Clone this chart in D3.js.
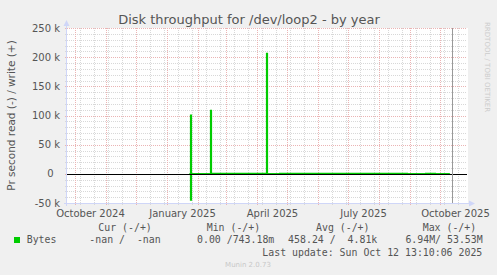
<!DOCTYPE html>
<html><head><meta charset="utf-8">
<script src="https://cdn.jsdelivr.net/npm/d3@7"></script>
<style>html,body{margin:0;padding:0;background:#f0f0f0;}svg{display:block}</style>
</head><body><svg id="c" width="497" height="275"></svg>
<script>
// ---------- data ----------
const title = "Disk throughput for /dev/loop2 - by year";
const yAxisTitle = "Pr second read (-) / write (+)";
const watermark = "RRDTOOL / TOBI OETIKER";
const yTicks = [-50000, 0, 50000, 100000, 150000, 200000, 250000];
const yTickLabels = ["-50 k", "0", "50 k", "100 k", "150 k", "200 k", "250 k"];
const xLabelMonths = ["2024-10-01", "2025-01-01", "2025-04-01", "2025-07-01", "2025-10-01"];
const xLabels = ["October 2024", "January 2025", "April 2025", "July 2025", "October 2025"];
// daily samples (step after); null = no data
const dates = ["2025-01-23", "2025-01-24", "2025-01-25", "2025-02-13", "2025-02-14", "2025-04-10", "2025-04-11",
  "2025-04-23", "2025-08-29", "2025-09-16", "2025-09-26", "2025-10-10", "2025-10-13"];
const writeVals = [0, 100800, 0, 108800, 900, 206500, 0, 900, 0, 900, 0, 900, null];
const readVals = [0, 45000, 0, 0, 0, 0, 0, 0, 0, 0, 0, 0, null];
const lastUpdate = "2025-10-12T13:10:06Z";
const seriesName = "Bytes";
const legendHeaders = ["Cur (-/+)", "Min (-/+)", "Avg (-/+)", "Max (-/+)"];
const legendValues = ["-nan /  -nan", "0.00 /743.18m", "458.24 /  4.81k", "6.94M/ 53.53M"];
const footerText = "Last update: Sun Oct 12 13:10:06 2025";
const versionText = "Munin 2.0.73";

// ---------- layout ----------
const L = 67, R = 467, T = 28, B = 203;
const svg = d3.select("#c");
const green = "#00cc00";
const parse = d3.utcParse("%Y-%m-%d");
const start = Date.UTC(2024, 8, 23), end = Date.UTC(2025, 9, 28);
const x = d3.scaleUtc().domain([start, end]).range([L, R]);
const y = d3.scaleLinear().domain([-50000, 250000]).range([B, T]);

svg.append("rect").attr("width", 497).attr("height", 275).attr("fill", "#f0f0f0");
svg.append("rect").attr("x", L).attr("y", T).attr("width", R - L + 1).attr("height", B - T).attr("fill", "#ffffff");

const g = svg.append("g");
// minor horizontal grid
const minorY = d3.range(-50000, 250001, 10000).filter(v => v % 50000 !== 0);
g.selectAll(".hmin").data(minorY).join("line")
  .attr("x1", L - 2).attr("x2", R).attr("y1", d => Math.round(y(d)) + 0.5).attr("y2", d => Math.round(y(d)) + 0.5)
  .attr("stroke", "#d8d8d8").attr("stroke-dasharray", "1,1");
// minor vertical grid: every 14 days
const firstMinor = Date.UTC(2024, 9, 6);
const minorX = d3.range(0, 30).map(i => d3.utcDay.offset(new Date(firstMinor), 14 * i)).filter(d => d >= start && d <= end);
g.selectAll(".vmin").data(minorX).join("line")
  .attr("y1", T).attr("y2", B + 2).attr("x1", d => Math.round(x(d)) + 0.5).attr("x2", d => Math.round(x(d)) + 0.5)
  .attr("stroke", "#d8d8d8").attr("stroke-dasharray", "1,1");
// major horizontal grid
g.selectAll(".hmaj").data(yTicks).join("line")
  .attr("x1", L - 2).attr("x2", R).attr("y1", d => Math.round(y(d)) + 0.5).attr("y2", d => Math.round(y(d)) + 0.5)
  .attr("stroke", "#ebb4b4").attr("stroke-dasharray", "1,1");
// major vertical grid: month starts
const majorX = d3.utcMonth.range(new Date(start), new Date(end));
g.selectAll(".vmaj").data(majorX).join("line")
  .attr("y1", T).attr("y2", B + 2).attr("x1", d => Math.round(x(d)) + 0.5).attr("x2", d => Math.round(x(d)) + 0.5)
  .attr("stroke", "#ebb4b4").attr("stroke-dasharray", "1,1");

// data
const pts = dates.map((d, i) => ({ t: parse(d), w: writeVals[i], r: readVals[i] }));
const lineW = d3.line().defined(d => d.w !== null).x(d => Math.round(x(d.t)) + 0.5).y(d => y(d.w)).curve(d3.curveStepAfter);
const lineR = d3.line().defined(d => d.r !== null).x(d => Math.round(x(d.t)) + 0.5).y(d => y(-d.r)).curve(d3.curveStepAfter);
svg.append("path").attr("d", lineR(pts)).attr("fill", "none").attr("stroke", green).attr("stroke-width", 1.2);
svg.append("path").attr("d", lineW(pts)).attr("fill", "none").attr("stroke", green).attr("stroke-width", 1.2);

// zero line
svg.append("line").attr("x1", L).attr("x2", R).attr("y1", Math.round(y(0)) + 0.5).attr("y2", Math.round(y(0)) + 0.5)
  .attr("stroke", "#000").attr("stroke-width", 1);

// now rule
const tNow = new Date(lastUpdate);
svg.append("line").attr("x1", Math.round(x(tNow)) + 0.5).attr("x2", Math.round(x(tNow)) + 0.5).attr("y1", T).attr("y2", B)
  .attr("stroke", "#999999").attr("stroke-width", 1);

// axes
const axisCol = "#cfd6f8";
svg.append("line").attr("x1", L - 0.5).attr("x2", L - 0.5).attr("y1", B + 3).attr("y2", T - 4).attr("stroke", axisCol);
svg.append("line").attr("x1", L - 3).attr("x2", R + 3).attr("y1", B + 0.5).attr("y2", B + 0.5).attr("stroke", axisCol);
svg.append("path").attr("d", `M${L - 3.5},${T - 2} L${L - 0.5},${T - 8} L${L + 2.5},${T - 2} Z`).attr("fill", axisCol);
svg.append("path").attr("d", `M${R + 2},${B - 2.5} L${R + 8},${B + 0.5} L${R + 2},${B + 3.5} Z`).attr("fill", axisCol);

// y tick labels
const font = "'DejaVu Sans', sans-serif";
const yl = svg.append("g").attr("font-family", font).attr("font-size", 10).attr("fill", "#555");
yTicks.forEach((v, i) => {
  const t = yl.append("text").attr("x", 60).attr("y", y(v) + 3.6).attr("text-anchor", "end")
    .attr("xml:space", "preserve").text(yTickLabels[i]);
  if (!/\s/.test(yTickLabels[i])) t.append("tspan").attr("fill", "none").text("  ");
});
// x labels (centered at mid-month)
const xl = svg.append("g").attr("font-family", font).attr("font-size", 10).attr("fill", "#555");
xLabelMonths.forEach((m, i) => {
  const t = d3.utcHour.offset(parse(m), 15 * 24 + 12);
  xl.append("text").attr("x", x(t)).attr("y", 216.5).attr("text-anchor", "middle").text(xLabels[i]);
});

// title
svg.append("text").attr("x", 249).attr("y", 24).attr("text-anchor", "middle").attr("font-family", font)
  .attr("font-size", 13).attr("fill", "#555").text(title);
// y axis title
svg.append("text").attr("transform", `translate(15,${(T + B) / 2}) rotate(-90)`).attr("text-anchor", "middle")
  .attr("font-family", font).attr("font-size", 10.5).attr("fill", "#555").text(yAxisTitle);
// watermark
svg.append("text").attr("transform", `translate(485,22) rotate(90)`).attr("font-family", font)
  .attr("font-size", 7).attr("fill", "#cccccc").text(watermark);

// legend
const mono = "'DejaVu Sans Mono', monospace";
const lg = svg.append("g").attr("font-family", mono).attr("font-size", 9.9).attr("fill", "#555");
const hdrX = [98.3, 206.7, 316, 422.7];
legendHeaders.forEach((h, i) => lg.append("text").attr("x", hdrX[i]).attr("y", 230.5).attr("xml:space", "preserve").text(h));
svg.append("rect").attr("x", 14).attr("y", 237).attr("width", 6).attr("height", 6).attr("fill", green);
lg.append("text").attr("x", 26.7).attr("y", 242.5).text(seriesName);
const valEnd = [160.7, 274.3, 377.3, 482.7];
legendValues.forEach((v, i) => lg.append("text").attr("x", valEnd[i]).attr("y", 242.5).attr("text-anchor", "end")
  .attr("xml:space", "preserve").text(v));
lg.append("text").attr("x", 482.3).attr("y", 255.5).attr("text-anchor", "end").attr("xml:space", "preserve").text(footerText);
svg.append("text").attr("x", 248).attr("y", 267).attr("text-anchor", "middle").attr("font-family", font)
  .attr("font-size", 7).attr("fill", "#c8c8c8").text(versionText);
</script></body></html>
